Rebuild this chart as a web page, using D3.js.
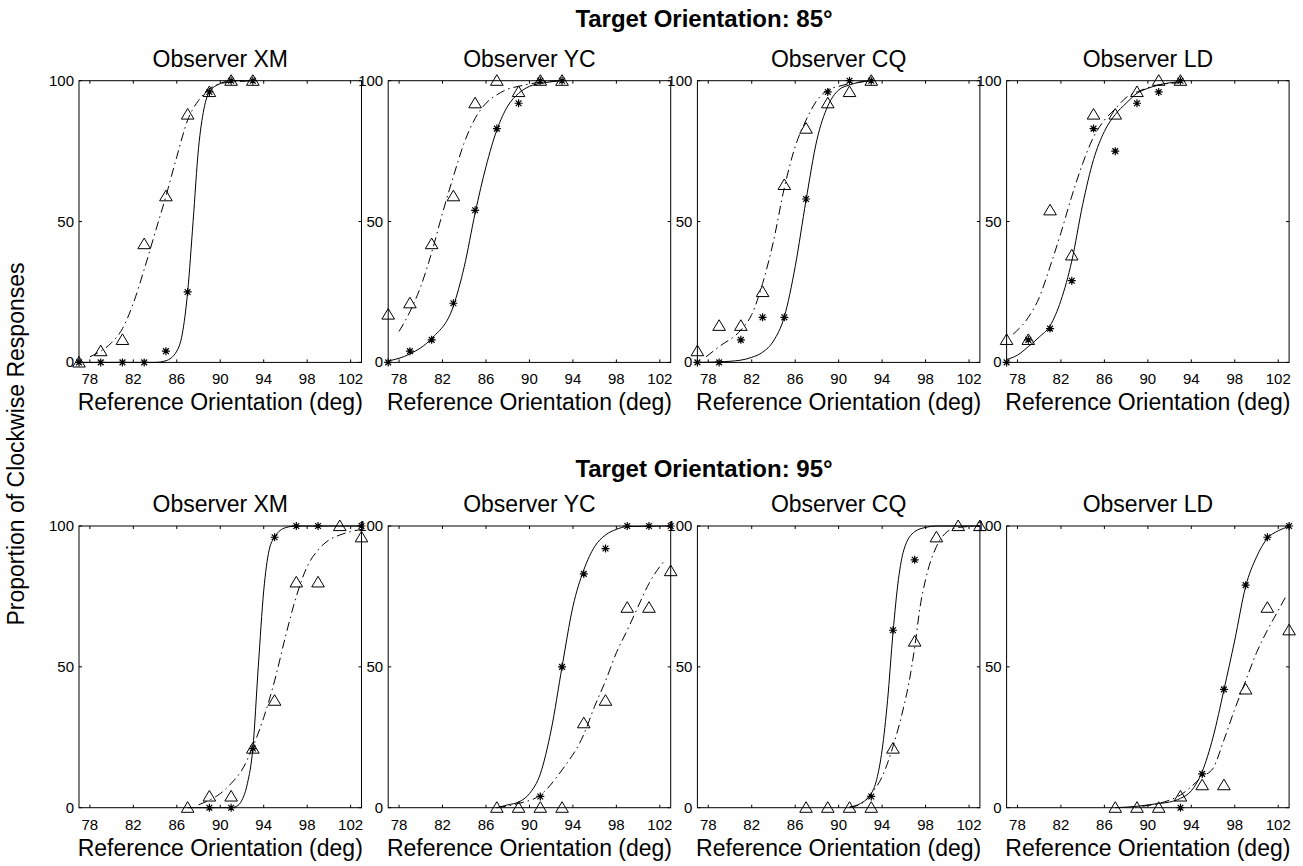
<!DOCTYPE html>
<html>
<head>
<meta charset="utf-8">
<script src="https://cdn.jsdelivr.net/npm/d3@7"></script>
<style>
  body { margin: 0; background: #fff; }
  svg text { font-family: "Liberation Sans", Arial, Helvetica, sans-serif; fill: #000; }
</style>
</head>
<body>
<svg id="chart" width="1303" height="866"></svg>
<script>
// Panel labels and ticks
var observers = ["XM", "YC", "CQ", "LD"];
var rowTitles = ["Target Orientation: 85\u00B0", "Target Orientation: 95\u00B0"];
var xTicks = [78, 82, 86, 90, 94, 98, 102];
var yTicks = [0, 50, 100];

// Reference orientations tested
var refs85 = [77, 79, 81, 83, 85, 87, 89, 91, 93];
var refs95 = [87, 89, 91, 93, 95, 97, 99, 101, 103];

// Data points (% clockwise), one array per observer: asterisks and triangles
// null = no marker drawn at that orientation
var star85 = [
  [0, 0, 0, 0, 4, 25, 96, 100, 100],
  [0, 4, 8, 21, 54, 83, 92, 100, 100],
  [0, 0, 8, 16, 16, 58, 96, 100, 100],
  [0, 8, 12, 29, 83, 75, 92, 96, 100]
];
var tri85 = [
  [0, 4, 8, 42, 59, 88, 96, 100, 100],
  [17, 21, 42, 59, 92, 100, 96, 100, 100],
  [4, 13, 13, 25, 63, 83, 92, 96, 100],
  [8, 8, 54, 38, 88, 88, 96, 100, 100]
];
var star95 = [
  [null, 0, 0, 21, 96, 100, 100, null, 100],
  [null, null, 4, 50, 83, 92, 100, 100, 100],
  [null, null, null, 4, 63, 88, null, null, null],
  [null, null, null, 0, 12, 42, 79, 96, 100]
];
var tri95 = [
  [0, 4, 4, 21, 38, 80, 80, 100, 96],
  [0, 0, 0, 0, 30, 38, 71, 71, 84],
  [0, 0, 0, 0, 21, 59, 96, 100, 100],
  [0, 0, 0, 4, 8, 8, 42, 71, 63]
];

// Fitted curves: [orientation, %]
var solid85 = [
  [[77, 0], [84, 0], [85, 0.6], [86, 4], [86.5, 10], [87, 25], [87.5, 50], [88, 76], [88.5, 90], [89, 96], [90, 99], [91, 100], [93, 100]],
  [[77, 0.5], [79, 3], [81, 8.5], [83, 20], [84, 34], [85, 53], [86, 69.5], [87, 82.5], [88, 91], [89, 95.5], [90, 98], [91, 99], [93, 100]],
  [[77, 0], [79, 0.2], [81, 0.8], [82, 1.8], [83, 3.6], [84, 7.6], [85, 16.2], [86, 34], [87, 57.6], [88, 79], [89, 91], [90, 96.7], [91, 98.5], [93, 100]],
  [[77, 1], [78, 2.6], [79, 5.6], [80, 9], [81, 13], [82, 22], [83, 36], [84, 56], [85, 72], [86, 82], [87, 88], [88, 92], [89, 95.5], [90, 97.3], [91, 98.5], [93, 99.7]]
];
var dash85 = [
  [[78, 2], [79, 4], [80, 7], [81, 12], [82, 21], [83, 33], [84, 46], [85, 59], [86, 73], [87, 86], [88, 93], [89, 97], [90, 99], [91, 99.5], [93, 100]],
  [[78, 11], [79, 18], [80, 27], [81, 39], [82, 53], [83, 66], [84, 78], [85, 86.6], [86, 92], [87, 95], [88, 97], [89, 98], [91, 99.5], [93, 100]],
  [[77.8, 2], [79, 5.6], [81, 11.5], [82, 17], [83, 28], [84, 43], [85, 62], [86, 76.6], [87, 86], [88, 93], [89, 96.7], [90, 98], [93, 100]],
  [[77.6, 10], [79, 16], [80, 23], [81, 34], [82, 46], [83, 59], [84, 70.6], [85, 80], [86, 86], [87, 90], [88, 94], [89, 96], [91, 98.5], [93, 99.3]]
];
var solid95 = [
  [[87, 0], [91, 0], [91.5, 0.5], [92, 2.7], [92.5, 8.6], [93, 21], [93.5, 50], [94, 77], [94.5, 91.5], [95, 96], [96, 99.4], [97, 100], [103, 100]],
  [[87, 0], [88, 1], [89, 2], [90, 5], [91, 12], [92, 27.6], [93, 50], [94, 71.4], [95, 84.4], [96, 92.7], [97, 96.8], [98, 98.8], [99, 99.8], [103, 100]],
  [[91, 0.2], [92, 1.5], [93, 5], [93.5, 10], [94, 20.5], [94.5, 38], [95, 62], [95.5, 81], [96, 91.5], [97, 98], [98, 99.5], [99, 100], [103, 100]],
  [[87, 0], [89, 0.5], [91, 1.5], [92, 2], [93, 3.3], [94, 6], [95, 12.8], [96, 25], [97, 41.8], [98, 59.5], [99, 78.5], [100, 89], [101, 95.6], [102, 98.3], [103, 99.8]]
];
var dash95 = [
  [[88, 1], [89, 2.7], [90, 5], [91, 8.6], [92, 13.4], [93, 21.6], [94, 32], [95, 45], [96, 60.7], [97, 75], [98, 85.6], [99, 91.5], [100, 95], [101, 96.8], [102, 98], [103, 98.8]],
  [[87, 0], [89, 1.5], [91, 4.5], [93, 13.4], [95, 26], [96, 36], [97, 45], [98, 55], [99, 63], [100, 71.4], [101, 79.6], [102, 85.6], [102.5, 88]],
  [[91, 0.2], [92, 1.2], [93, 5], [94, 11], [95, 21.7], [96, 36], [96.5, 45], [97, 57], [97.5, 71.4], [98, 81], [99, 92.7], [100, 98], [101, 99.5], [103, 100]],
  [[89.5, 0.5], [91, 1.5], [92, 2.7], [93, 4.5], [94, 7.5], [95, 11], [96, 14], [97, 24], [98, 35], [99, 45], [100, 55], [101, 63], [102, 70], [102.7, 75]]
];

var svg = d3.select("#chart");

var panelW = 282.5, panelH = 281.7;
var lefts = observers.map(function(d, i) { return 79 + i * 309.2; });
var tops = [80.7, 526];

var x = d3.scaleLinear().domain([77, 103]).range([0, panelW]);
var y = d3.scaleLinear().domain([0, 100]).range([panelH, 0]);

var line = d3.line()
    .x(function(d) { return x(d[0]); })
    .y(function(d) { return y(d[1]); })
    .curve(d3.curveMonotoneX);

// asterisk: plus and cross, 8 arms
function asterisk(r) {
  var a = r * 0.72;
  return "M" + (-r) + ",0L" + r + ",0M0," + (-r) + "L0," + r +
         "M" + (-a) + "," + (-a) + "L" + a + "," + a +
         "M" + (-a) + "," + a + "L" + a + "," + (-a);
}
var triangle = "M0,-6L6.3,4.6L-6.3,4.6Z";

// pair values with orientations, dropping missing ones
function points(refs, vals) {
  return vals.map(function(v, k) { return [refs[k], v]; })
             .filter(function(p) { return p[1] !== null; });
}

var rows = [
  {refs: refs85, stars: star85, tris: tri85, solid: solid85, dash: dash85},
  {refs: refs95, stars: star95, tris: tri95, solid: solid95, dash: dash95}
];

rows.forEach(function(row, r) {
  // row title
  svg.append("text")
      .attr("x", 704)
      .attr("y", r === 0 ? 27 : 476.5)
      .attr("text-anchor", "middle")
      .style("font-size", "24px")
      .style("font-weight", "bold")
      .text(rowTitles[r]);

  observers.forEach(function(obs, i) {
    var g = svg.append("g")
        .attr("transform", "translate(" + lefts[i] + "," + tops[r] + ")");

    // box
    g.append("rect")
        .attr("width", panelW)
        .attr("height", panelH)
        .attr("fill", "none")
        .attr("stroke", "#000")
        .attr("stroke-width", 1);

    // inward ticks on all four sides
    var tk = 3;
    g.selectAll(".xtb").data(xTicks).enter().append("line")
        .attr("x1", function(d) { return x(d); }).attr("x2", function(d) { return x(d); })
        .attr("y1", panelH).attr("y2", panelH - tk)
        .attr("stroke", "#000");
    g.selectAll(".xtt").data(xTicks).enter().append("line")
        .attr("x1", function(d) { return x(d); }).attr("x2", function(d) { return x(d); })
        .attr("y1", 0).attr("y2", tk)
        .attr("stroke", "#000");
    g.selectAll(".ytl").data(yTicks).enter().append("line")
        .attr("x1", 0).attr("x2", tk)
        .attr("y1", function(d) { return y(d); }).attr("y2", function(d) { return y(d); })
        .attr("stroke", "#000");
    g.selectAll(".ytr").data(yTicks).enter().append("line")
        .attr("x1", panelW).attr("x2", panelW - tk)
        .attr("y1", function(d) { return y(d); }).attr("y2", function(d) { return y(d); })
        .attr("stroke", "#000");

    // tick labels
    g.selectAll(".xl").data(xTicks).enter().append("text")
        .attr("x", function(d) { return x(d); })
        .attr("y", panelH + 22)
        .attr("text-anchor", "middle")
        .style("font-size", "15px")
        .text(function(d) { return d; });
    g.selectAll(".yl").data(yTicks).enter().append("text")
        .attr("x", -5)
        .attr("y", function(d) { return y(d) + 5; })
        .attr("text-anchor", "end")
        .style("font-size", "15px")
        .text(function(d) { return d; });

    // panel title and x label
    g.append("text")
        .attr("x", panelW / 2)
        .attr("y", -14)
        .attr("text-anchor", "middle")
        .style("font-size", "23px")
        .text("Observer " + obs);
    g.append("text")
        .attr("x", panelW / 2)
        .attr("y", panelH + 48)
        .attr("text-anchor", "middle")
        .style("font-size", "23px")
        .text("Reference Orientation (deg)");

    // fitted curves
    g.append("path")
        .datum(row.solid[i])
        .attr("d", line)
        .attr("fill", "none")
        .attr("stroke", "#000")
        .attr("stroke-width", 1);
    g.append("path")
        .datum(row.dash[i])
        .attr("d", line)
        .attr("fill", "none")
        .attr("stroke", "#000")
        .attr("stroke-width", 1)
        .attr("stroke-dasharray", "9,4,1.5,4");

    // triangles
    g.selectAll(".tri").data(points(row.refs, row.tris[i])).enter().append("path")
        .attr("d", triangle)
        .attr("transform", function(d) { return "translate(" + x(d[0]) + "," + y(d[1]) + ")"; })
        .attr("fill", "none")
        .attr("stroke", "#000")
        .attr("stroke-width", 1);

    // asterisks
    g.selectAll(".star").data(points(row.refs, row.stars[i])).enter().append("path")
        .attr("d", asterisk(4))
        .attr("transform", function(d) { return "translate(" + x(d[0]) + "," + y(d[1]) + ")"; })
        .attr("fill", "none")
        .attr("stroke", "#000")
        .attr("stroke-width", 1.2);
  });
});

// shared y label
svg.append("text")
    .attr("transform", "translate(24,444) rotate(-90)")
    .attr("text-anchor", "middle")
    .style("font-size", "23px")
    .text("Proportion of Clockwise Responses");
</script>
</body>
</html>
